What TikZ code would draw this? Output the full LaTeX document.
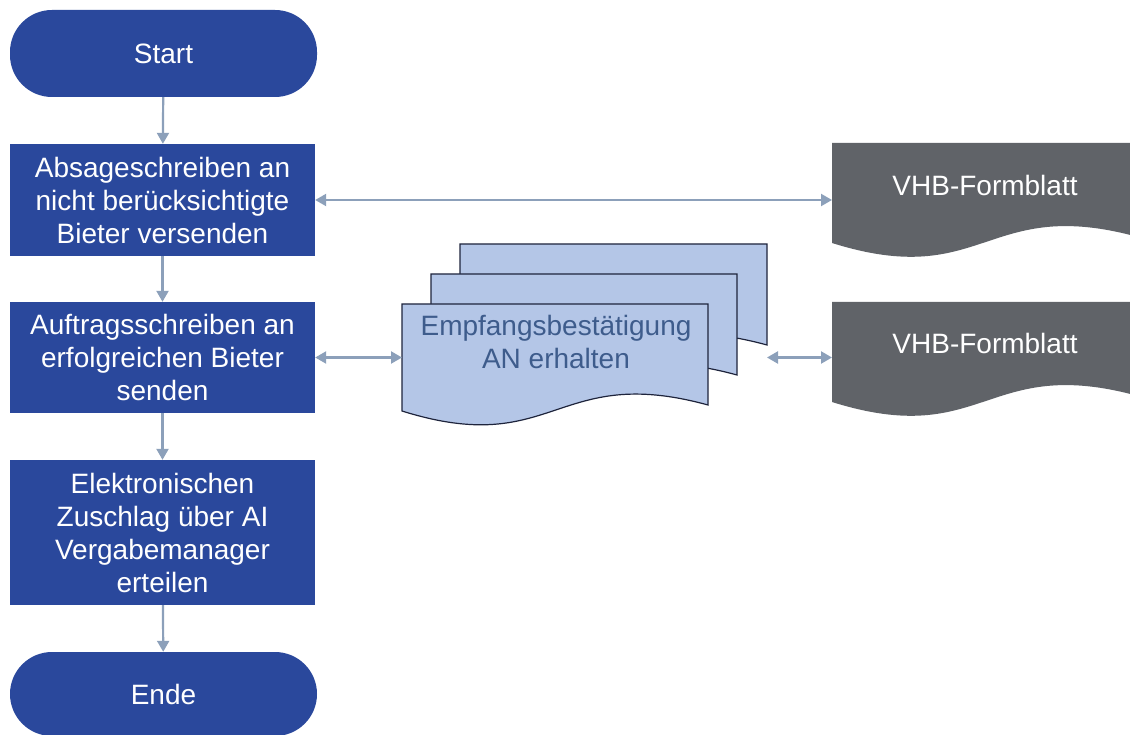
\documentclass[tikz,border=0pt]{standalone}
\usepackage{fontspec}
\setmainfont{Liberation Sans}
\usetikzlibrary{arrows.meta}

\definecolor{flowblue}{RGB}{42,72,156}
\definecolor{docgray}{RGB}{96,99,104}
\definecolor{paleblue}{RGB}{180,198,231}
\definecolor{linkgray}{RGB}{140,160,186}
\definecolor{doctext}{RGB}{62,92,140}
\definecolor{docedge}{RGB}{30,36,60}

% document outline: left x, top y, width, bottom y at the left edge
\newcommand\wavedoc[4]{(#1,#2) -- (#1+#3,#2) -- (#1+#3,#4-6)
  .. controls (#1+#3/2,#4-48) and (#1+#3/2,#4+48) .. (#1,#4) -- cycle}

\begin{document}
\begin{tikzpicture}[x=1pt,y=-1pt,
  every node/.style={font=\fontsize{28}{33}\selectfont},
  terminal/.style={fill=flowblue, text=white, rounded corners=42pt,
    minimum width=307pt, inner sep=0pt},
  process/.style={fill=flowblue, text=white, minimum width=305pt,
    align=center, inner sep=0pt},
  tip/.tip={Triangle[length=11pt,width=12pt]},
  link/.style={draw=linkgray, line width=2.2pt, -tip},
  twoway/.style={draw=linkgray, line width=2.2pt, tip-tip},
  multidoc/.style={fill=paleblue, draw=docedge, line width=1.2pt},
  formdoc/.style={fill=docgray},
]
\clip (0,0) rectangle (1130,735);
\fill[white] (0,0) rectangle (1130,735);

% main flow
\node[terminal, minimum height=87pt] (start) at (163.5,53.5) {Start};
\node[process, minimum height=112pt] (abs) at (162.5,200)
  {Absageschreiben an\\nicht berücksichtigte\\Bieter versenden};
\node[process, minimum height=111pt] (auf) at (162.5,357.5)
  {Auftragsschreiben an\\erfolgreichen Bieter\\senden};
\node[process, minimum height=145pt] (zus) at (162.5,532.5)
  {Elektronischen\\Zuschlag über AI\\Vergabemanager\\erteilen};
\node[terminal, minimum height=84pt] (ende) at (163.5,694) {Ende};

% stacked documents
\path[multidoc] \wavedoc{460}{244}{307}{351};
\path[multidoc] \wavedoc{431}{274}{306}{381};
\path[multidoc] \wavedoc{402}{304}{306}{411};
\node[text=doctext, align=center] (emp) at (556,342)
  {Empfangsbestätigung\\AN erhalten};
\coordinate (empW) at (402,357.5);
\coordinate (empE) at (767,357.5);

% forms
\path[formdoc] \wavedoc{832}{143}{306}{243};
\path[formdoc] \wavedoc{832}{302}{306}{402};
\node[text=white] (vhb1) at (985,185) {VHB-Formblatt};
\node[text=white] (vhb2) at (985,343) {VHB-Formblatt};
\coordinate (vhb1W) at (832,200);
\coordinate (vhb2W) at (832,357.5);

% connectors
\draw[link] (start) -- (abs);
\draw[link] (abs) -- (auf);
\draw[link] (auf) -- (zus);
\draw[link] (zus) -- (ende);
\draw[twoway] (abs.east) -- (vhb1W);
\draw[twoway] (auf.east) -- (empW);
\draw[twoway] (empE) -- (vhb2W);
\end{tikzpicture}
\end{document}
